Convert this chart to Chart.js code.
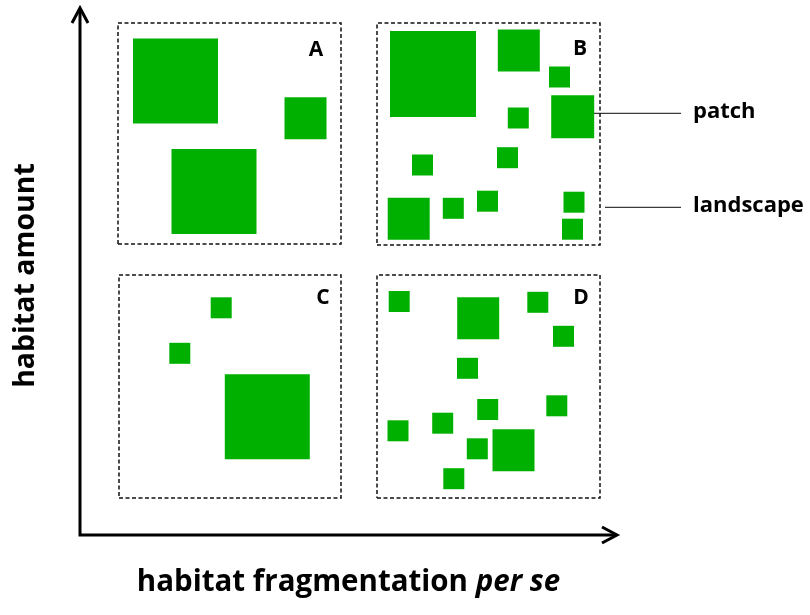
<!DOCTYPE html>
<html>
<head>
<meta charset="utf-8">
<script src="https://cdn.jsdelivr.net/npm/chart.js@4.4.1/dist/chart.umd.min.js"></script>
<style>
  html, body { margin: 0; padding: 0; background: #ffffff; }
  #wrap { width: 810px; height: 615px; }
</style>
</head>
<body>
<div id="wrap"><canvas id="habitat_chart"></canvas></div>
<script>
// map units: x = habitat fragmentation, y = habitat amount (origin at the axes corner)
const x_max = 537;
const y_max = 527;

const panel_names = ["A", "B", "C", "D"];
const panel_x_range = [[38, 261], [297, 520], [39, 261], [297, 520]];
const panel_y_range = [[291, 512], [290, 512], [37, 260], [37, 260]];
const panel_label_x = [236, 500, 243, 501];
const panel_label_y = [485, 486, 237, 237];

// habitat patches: centre x, centre y, side
const patches_A = [
  {x: 95.5, y: 454, s: 85}, {x: 225.5, y: 416.7, s: 42}, {x: 134, y: 343.5, s: 85}
];
const patches_B = [
  {x: 353, y: 461, s: 86}, {x: 438.8, y: 484.5, s: 42}, {x: 479.5, y: 458, s: 21},
  {x: 492.7, y: 418.3, s: 43}, {x: 438.3, y: 417, s: 21}, {x: 342.5, y: 370, s: 21},
  {x: 427.5, y: 377.3, s: 21}, {x: 328.7, y: 316.2, s: 42}, {x: 373.3, y: 326.7, s: 21},
  {x: 407.5, y: 333.8, s: 21}, {x: 494, y: 332.8, s: 21}, {x: 492.5, y: 305.8, s: 21}
];
const patches_C = [
  {x: 141.2, y: 227.2, s: 21}, {x: 99.8, y: 181.7, s: 21}, {x: 187.3, y: 118.2, s: 85}
];
const patches_D = [
  {x: 319.2, y: 233.5, s: 21}, {x: 398.2, y: 216.8, s: 42}, {x: 457.8, y: 232.7, s: 21},
  {x: 483.5, y: 198.7, s: 21}, {x: 387.5, y: 166.7, s: 21}, {x: 407.7, y: 125.5, s: 21},
  {x: 476.8, y: 129.2, s: 21}, {x: 318, y: 104.2, s: 21}, {x: 362.7, y: 111.8, s: 21},
  {x: 397.3, y: 86.2, s: 21}, {x: 433.5, y: 84.8, s: 42}, {x: 373.8, y: 56.3, s: 21}
];

const callout_labels = ["patch", "landscape"];
const callout_x_start = [498, 525];
const callout_x_end = [601, 601];
const callout_y = [421.7, 327.7];
const callout_text_x = 613;

const x_title = "habitat fragmentation ";
const x_title_italic = "per se";
const y_title = "habitat amount";

const patch_color = "#00b000";

let datasets = [];

// dashed landscape boxes
panel_names.forEach(function (name, i) {
  const xr = panel_x_range[i], yr = panel_y_range[i];
  datasets.push({
    type: "line",
    label: "landscape " + name,
    data: [
      {x: xr[0], y: yr[0]}, {x: xr[1], y: yr[0]}, {x: xr[1], y: yr[1]},
      {x: xr[0], y: yr[1]}, {x: xr[0], y: yr[0]}
    ],
    borderColor: "#111111",
    borderWidth: 1.5,
    borderDash: [4, 2.5],
    pointRadius: 0,
    tension: 0,
    fill: false,
    clip: false
  });
});

// green patches, side converted through the x scale
[patches_A, patches_B, patches_C, patches_D].forEach(function (patches, i) {
  datasets.push({
    type: "scatter",
    label: "patches " + panel_names[i],
    data: patches,
    pointStyle: "rect",
    backgroundColor: patch_color,
    borderWidth: 0,
    pointRadius: function (context) {
      const sx = context.chart.scales.x;
      const side = sx.getPixelForValue(context.raw.s) - sx.getPixelForValue(0);
      return side / Math.SQRT2;
    },
    clip: false
  });
});

// leader lines for the labels
callout_labels.forEach(function (label, i) {
  datasets.push({
    type: "line",
    label: label,
    data: [{x: callout_x_start[i], y: callout_y[i]}, {x: callout_x_end[i], y: callout_y[i]}],
    borderColor: "#3a3a3a",
    borderWidth: 1.2,
    pointRadius: 0,
    fill: false,
    clip: false
  });
});

const figure_text = {
  id: "figure_text",
  afterDatasetsDraw(chart) {
    const ctx = chart.ctx;
    const sx = chart.scales.x, sy = chart.scales.y;
    const area = chart.chartArea;
    ctx.save();

    // axes with open arrow heads
    ctx.strokeStyle = "#000000";
    ctx.lineWidth = 3;
    ctx.beginPath();
    ctx.moveTo(area.left, area.top + 1);
    ctx.lineTo(area.left, area.bottom);
    ctx.lineTo(area.right - 1, area.bottom);
    ctx.stroke();
    ctx.beginPath();
    ctx.moveTo(area.left - 8, area.top + 15);
    ctx.lineTo(area.left, area.top);
    ctx.lineTo(area.left + 8, area.top + 15);
    ctx.moveTo(area.right - 15, area.bottom - 8);
    ctx.lineTo(area.right, area.bottom);
    ctx.lineTo(area.right - 15, area.bottom + 8);
    ctx.stroke();

    ctx.fillStyle = "#000000";
    ctx.textBaseline = "middle";

    // panel letters
    ctx.font = "bold 21px 'Open Sans'";
    ctx.textAlign = "center";
    panel_names.forEach(function (name, i) {
      ctx.fillText(name, sx.getPixelForValue(panel_label_x[i]), sy.getPixelForValue(panel_label_y[i]));
    });

    // callout labels
    ctx.font = "bold 22px 'Open Sans'";
    ctx.textAlign = "left";
    callout_labels.forEach(function (label, i) {
      ctx.fillText(label, sx.getPixelForValue(callout_text_x), sy.getPixelForValue(callout_y[i]) - 2);
    });

    // x axis title, "per se" in italics
    const title_font = "bold 29.5px 'Open Sans'";
    const italic_font = "italic bold 29.5px 'Open Sans'";
    ctx.textBaseline = "alphabetic";
    ctx.font = title_font;
    const w1 = ctx.measureText(x_title).width;
    ctx.font = italic_font;
    const w2 = ctx.measureText(x_title_italic).width;
    const start_x = (area.left + area.right) / 2 - (w1 + w2) / 2;
    const base_y = area.bottom + 56;
    ctx.font = title_font;
    ctx.fillText(x_title, start_x, base_y);
    ctx.font = italic_font;
    ctx.fillText(x_title_italic, start_x + w1, base_y);

    // y axis title
    ctx.translate(area.left - 54, (area.top + area.bottom) / 2 + 4);
    ctx.rotate(-Math.PI / 2);
    ctx.font = "bold 28.5px 'Open Sans'";
    ctx.textAlign = "center";
    ctx.textBaseline = "middle";
    ctx.fillText(y_title, 0, 0);

    ctx.restore();
  }
};

new Chart(document.getElementById("habitat_chart"), {
  type: "scatter",
  data: { datasets: datasets },
  options: {
    responsive: true,
    maintainAspectRatio: false,
    animation: false,
    events: [],
    layout: { padding: { left: 80, right: 193, top: 8, bottom: 80 } },
    plugins: {
      legend: { display: false },
      tooltip: { enabled: false }
    },
    scales: {
      x: { type: "linear", min: 0, max: x_max, display: false },
      y: { type: "linear", min: 0, max: y_max, display: false }
    }
  },
  plugins: [figure_text]
});
</script>
</body>
</html>
